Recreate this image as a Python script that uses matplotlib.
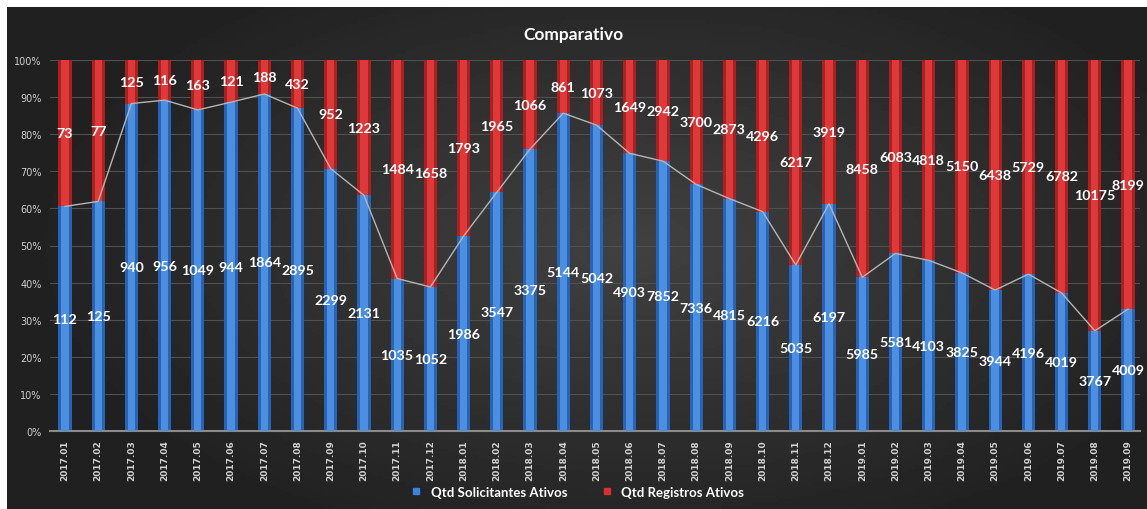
import numpy as np
import matplotlib.pyplot as plt

months = ["2017.01", "2017.02", "2017.03", "2017.04", "2017.05", "2017.06",
          "2017.07", "2017.08", "2017.09", "2017.10", "2017.11", "2017.12",
          "2018.01", "2018.02", "2018.03", "2018.04", "2018.05", "2018.06",
          "2018.07", "2018.08", "2018.09", "2018.10", "2018.11", "2018.12",
          "2019.01", "2019.02", "2019.03", "2019.04", "2019.05", "2019.06",
          "2019.07", "2019.08", "2019.09"]
solicitantes = [112, 125, 940, 956, 1049, 944, 1864, 2895, 2299, 2131, 1035, 1052,
                1986, 3547, 3375, 5144, 5042, 4903, 7852, 7336, 4815, 6216, 5035, 6197,
                5985, 5581, 4103, 3825, 3944, 4196, 4019, 3767, 4009]
registros = [73, 77, 125, 116, 163, 121, 188, 432, 952, 1223, 1484, 1658,
             1793, 1965, 1066, 861, 1073, 1649, 2942, 3700, 2873, 4296, 6217, 3919,
             8458, 6083, 4818, 5150, 6438, 5729, 6782, 10175, 8199]

sol = np.array(solicitantes, dtype=float)
reg = np.array(registros, dtype=float)
tot = sol + reg
p_sol = sol / tot
p_reg = reg / tot
x = np.arange(len(months))

W, H = 1147, 510
fig = plt.figure(figsize=(W / 100, H / 100), dpi=100, facecolor="white")

# dark gradient background
bg = fig.add_axes([7 / W, 0, 1 - 7 / W, 1 - 8 / H])
gx, gy = np.meshgrid(np.linspace(-1, 1, 300), np.linspace(-1, 1, 150))
r = np.sqrt(((gx - 0.1) / 1.1) ** 2 + ((gy + 0.05) / 1.3) ** 2)
grad = 0.255 - 0.13 * np.clip(r, 0, 1)
bg.imshow(grad, cmap="gray", vmin=0, vmax=1, aspect="auto", extent=[0, 1, 0, 1])
bg.axis("off")

ax = fig.add_axes([50 / W, 1 - 432 / H, 1090 / W, 371 / H])
ax.patch.set_alpha(0)

w = 0.4
ax.bar(x, p_sol, w, color="#2a62b4", zorder=2)
ax.bar(x, p_sol, w * 0.55, color="#4a8fe2", zorder=3)
ax.bar(x, p_reg, w, bottom=p_sol, color="#a82222", zorder=2)
ax.bar(x, p_reg, w * 0.55, bottom=p_sol, color="#e03838", zorder=3)
ax.plot(x, p_sol, color="#b4b4b4", lw=1, zorder=4)

# value labels in the middle of each segment
lab_kw = dict(ha="center", va="center", color="white", fontsize=10.3,
              fontweight="bold", family="Lato", zorder=5)
for i in range(len(months)):
    ax.text(x[i], p_sol[i] / 2, str(solicitantes[i]), **lab_kw)
    ax.text(x[i], p_sol[i] + p_reg[i] / 2, str(registros[i]), **lab_kw)

ax.set_xlim(-0.45, 32.36)
ax.set_ylim(0, 1)
ax.set_yticks(np.arange(0, 1.01, 0.1))
ax.set_yticklabels([f"{v}%" for v in range(0, 101, 10)], color="#d0d0d0", fontsize=7)
ax.set_xticks(x)
ax.set_xticklabels(months, rotation=90, color="#d0d0d0", fontsize=6.5, fontweight="bold")
ax.tick_params(length=0, pad=6)
ax.yaxis.grid(True, color="#505050", lw=0.8)
ax.set_axisbelow(True)
for s in ["top", "right", "left"]:
    ax.spines[s].set_visible(False)
ax.spines["bottom"].set_color("#8a8a8a")
ax.spines["bottom"].set_linewidth(1.5)

fig.text(0.5, 1 - 35 / H, "Comparativo", ha="center", va="center", color="white",
         fontsize=12.5, fontweight="bold", family="Lato")

h1 = plt.Line2D([], [], marker="s", ls="", color="#3c82dc", markersize=5)
h2 = plt.Line2D([], [], marker="s", ls="", color="#d83030", markersize=5)
leg = fig.legend([h1, h2], ["Qtd Solicitantes Ativos", "Qtd Registros Ativos"],
                 loc="center", bbox_to_anchor=(0.5, 1 - 493 / H), ncol=2, frameon=False,
                 handletextpad=0.1, columnspacing=2.0,
                 prop=dict(family="Lato", weight="bold", size=9.5))
for t in leg.get_texts():
    t.set_color("white")

fig.savefig("out.png", dpi=100, facecolor=fig.get_facecolor())
